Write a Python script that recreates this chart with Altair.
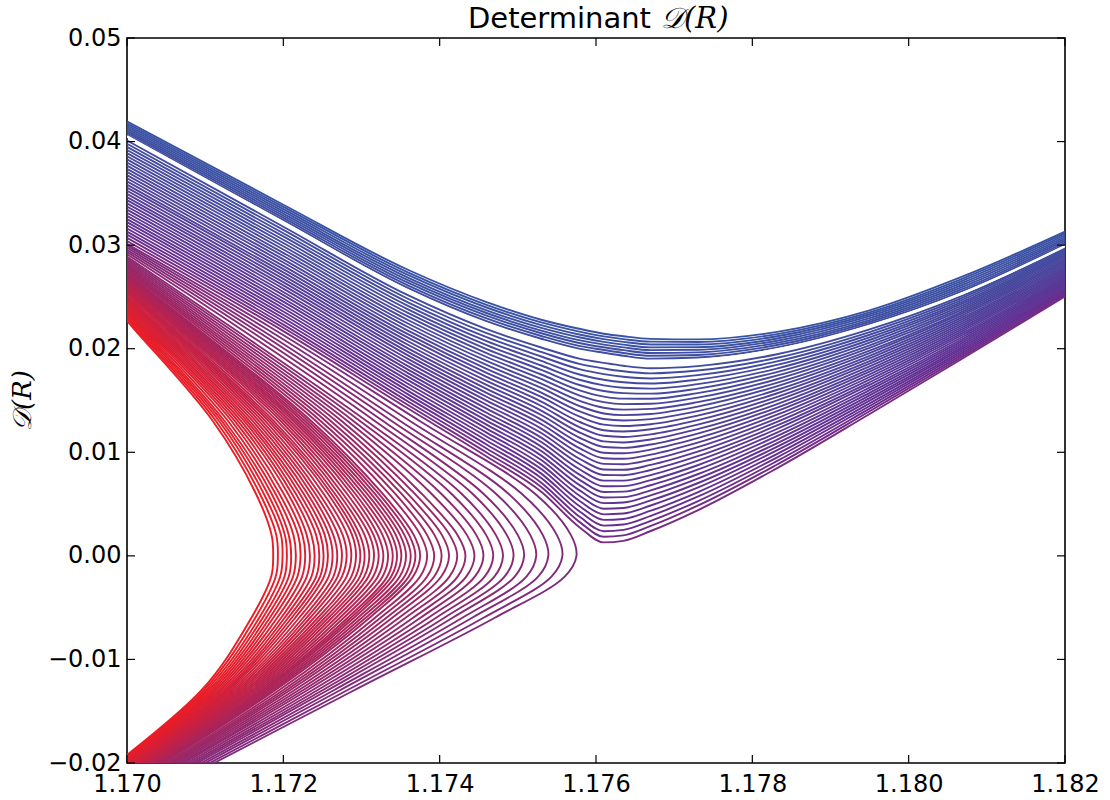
import altair as alt
import pandas as pd

# ---------------- data ----------------
# C-shaped curves (red -> purple): x position of each curve at shared y levels
C_LEVELS = [0.034, 0.022, 0.013, 0.006, 0.002, 0.0, -0.002, -0.006, -0.013, -0.023]
C_X = [
    [1.168640, 1.170080, 1.171100, 1.171650, 1.171850, 1.171870, 1.171845, 1.171590, 1.170950, 1.169350],
    [1.168645, 1.170105, 1.171140, 1.171700, 1.171910, 1.171930, 1.171903, 1.171640, 1.170980, 1.169365],
    [1.168650, 1.170130, 1.171180, 1.171750, 1.171970, 1.171990, 1.171960, 1.171690, 1.171010, 1.169380],
    [1.168660, 1.170155, 1.171215, 1.171800, 1.172020, 1.172045, 1.172015, 1.171735, 1.171040, 1.169395],
    [1.168670, 1.170180, 1.171250, 1.171850, 1.172070, 1.172100, 1.172070, 1.171780, 1.171070, 1.169410],
    [1.168675, 1.170205, 1.171295, 1.171900, 1.172130, 1.172160, 1.172125, 1.171825, 1.171100, 1.169425],
    [1.168680, 1.170230, 1.171340, 1.171950, 1.172190, 1.172220, 1.172180, 1.171870, 1.171130, 1.169440],
    [1.168690, 1.170255, 1.171380, 1.172005, 1.172245, 1.172280, 1.172240, 1.171920, 1.171160, 1.169455],
    [1.168700, 1.170280, 1.171420, 1.172060, 1.172300, 1.172340, 1.172300, 1.171970, 1.171190, 1.169470],
    [1.168705, 1.170305, 1.171460, 1.172110, 1.172360, 1.172400, 1.172360, 1.172015, 1.171220, 1.169485],
    [1.168710, 1.170330, 1.171500, 1.172160, 1.172420, 1.172460, 1.172420, 1.172060, 1.171250, 1.169500],
    [1.168715, 1.170355, 1.171535, 1.172210, 1.172475, 1.172515, 1.172470, 1.172105, 1.171275, 1.169515],
    [1.168720, 1.170380, 1.171570, 1.172260, 1.172530, 1.172570, 1.172520, 1.172150, 1.171300, 1.169530],
    [1.168730, 1.170405, 1.171610, 1.172310, 1.172585, 1.172630, 1.172580, 1.172200, 1.171330, 1.169545],
    [1.168740, 1.170430, 1.171650, 1.172360, 1.172640, 1.172690, 1.172640, 1.172250, 1.171360, 1.169560],
    [1.168745, 1.170460, 1.171690, 1.172410, 1.172700, 1.172750, 1.172695, 1.172295, 1.171390, 1.169575],
    [1.168750, 1.170490, 1.171730, 1.172460, 1.172760, 1.172810, 1.172750, 1.172340, 1.171420, 1.169590],
    [1.168760, 1.170515, 1.171770, 1.172515, 1.172820, 1.172870, 1.172810, 1.172390, 1.171450, 1.169605],
    [1.168770, 1.170540, 1.171810, 1.172570, 1.172880, 1.172930, 1.172870, 1.172440, 1.171480, 1.169620],
    [1.168775, 1.170560, 1.171845, 1.172615, 1.172930, 1.172985, 1.172925, 1.172485, 1.171510, 1.169635],
    [1.168780, 1.170580, 1.171880, 1.172660, 1.172980, 1.173040, 1.172980, 1.172530, 1.171540, 1.169650],
    [1.168785, 1.170610, 1.171925, 1.172710, 1.173040, 1.173100, 1.173035, 1.172575, 1.171570, 1.169665],
    [1.168790, 1.170640, 1.171970, 1.172760, 1.173100, 1.173160, 1.173090, 1.172620, 1.171600, 1.169680],
    [1.168800, 1.170665, 1.172010, 1.172815, 1.173155, 1.173220, 1.173150, 1.172670, 1.171630, 1.169695],
    [1.168810, 1.170690, 1.172050, 1.172870, 1.173210, 1.173280, 1.173210, 1.172720, 1.171660, 1.169710],
    [1.168815, 1.170715, 1.172090, 1.172920, 1.173270, 1.173340, 1.173270, 1.172770, 1.171690, 1.169725],
    [1.168820, 1.170740, 1.172130, 1.172970, 1.173330, 1.173400, 1.173330, 1.172820, 1.171720, 1.169740],
    [1.168825, 1.170765, 1.172165, 1.173020, 1.173385, 1.173455, 1.173380, 1.172860, 1.171745, 1.169755],
    [1.168830, 1.170790, 1.172200, 1.173070, 1.173440, 1.173510, 1.173430, 1.172900, 1.171770, 1.169770],
    [1.168840, 1.170815, 1.172240, 1.173120, 1.173495, 1.173570, 1.173490, 1.172950, 1.171800, 1.169785],
    [1.168850, 1.170840, 1.172280, 1.173170, 1.173550, 1.173630, 1.173550, 1.173000, 1.171830, 1.169800],
    [1.168855, 1.170865, 1.172320, 1.173220, 1.173610, 1.173690, 1.173605, 1.173050, 1.171860, 1.169815],
    [1.168860, 1.170890, 1.172360, 1.173270, 1.173670, 1.173750, 1.173660, 1.173100, 1.171890, 1.169830],
    [1.168870, 1.170930, 1.172420, 1.173350, 1.173755, 1.173840, 1.173750, 1.173170, 1.171940, 1.169855],
    [1.168880, 1.170970, 1.172480, 1.173430, 1.173840, 1.173930, 1.173840, 1.173240, 1.171990, 1.169880],
    [1.168895, 1.171010, 1.172545, 1.173510, 1.173935, 1.174025, 1.173930, 1.173315, 1.172035, 1.169905],
    [1.168910, 1.171050, 1.172610, 1.173590, 1.174030, 1.174120, 1.174020, 1.173390, 1.172080, 1.169930],
    [1.168920, 1.171095, 1.172680, 1.173680, 1.174130, 1.174225, 1.174125, 1.173475, 1.172135, 1.169955],
    [1.168930, 1.171140, 1.172750, 1.173770, 1.174230, 1.174330, 1.174230, 1.173560, 1.172190, 1.169980],
    [1.168945, 1.171190, 1.172825, 1.173895, 1.174350, 1.174445, 1.174340, 1.173655, 1.172245, 1.170010],
    [1.168960, 1.171240, 1.172900, 1.174020, 1.174470, 1.174560, 1.174450, 1.173750, 1.172300, 1.170040],
    [1.168975, 1.171295, 1.172985, 1.174150, 1.174595, 1.174685, 1.174575, 1.173850, 1.172365, 1.170075],
    [1.168990, 1.171350, 1.173070, 1.174280, 1.174720, 1.174810, 1.174700, 1.173950, 1.172430, 1.170110],
    [1.169005, 1.171435, 1.173175, 1.174420, 1.174860, 1.174945, 1.174830, 1.174055, 1.172495, 1.170145],
    [1.169020, 1.171520, 1.173280, 1.174560, 1.175000, 1.175080, 1.174960, 1.174160, 1.172560, 1.170180],
    [1.169040, 1.171600, 1.173390, 1.174720, 1.175160, 1.175235, 1.175110, 1.174285, 1.172640, 1.170220],
    [1.169060, 1.171680, 1.173500, 1.174880, 1.175320, 1.175390, 1.175260, 1.174410, 1.172720, 1.170260],
    [1.169080, 1.171765, 1.173625, 1.175050, 1.175500, 1.175570, 1.175430, 1.174555, 1.172810, 1.170305],
    [1.169100, 1.171850, 1.173750, 1.175220, 1.175680, 1.175750, 1.175600, 1.174700, 1.172900, 1.170350],
]

# U-shaped curves (purple -> blue): y value of each curve at shared x levels
U_LEVELS = [1.170, 1.172, 1.1736, 1.1746, 1.1753, 1.1758, 1.1761, 1.17635, 1.1767,
            1.1773, 1.1783, 1.1795, 1.1807, 1.182]
U_Y = [
    [0.03040, 0.02170, 0.01420, 0.00960, 0.00620, 0.00270, 0.00130, 0.00145, 0.00240, 0.00440, 0.00840, 0.01370, 0.01910, 0.02505],
    [0.03070, 0.02202, 0.01454, 0.00998, 0.00664, 0.00321, 0.00184, 0.00198, 0.00289, 0.00484, 0.00875, 0.01396, 0.01929, 0.02520],
    [0.03101, 0.02233, 0.01488, 0.01037, 0.00707, 0.00372, 0.00238, 0.00251, 0.00338, 0.00527, 0.00909, 0.01421, 0.01948, 0.02534],
    [0.03131, 0.02265, 0.01523, 0.01075, 0.00751, 0.00423, 0.00292, 0.00303, 0.00387, 0.00571, 0.00944, 0.01447, 0.01967, 0.02549],
    [0.03161, 0.02296, 0.01557, 0.01114, 0.00794, 0.00474, 0.00347, 0.00356, 0.00436, 0.00614, 0.00978, 0.01472, 0.01986, 0.02563],
    [0.03192, 0.02328, 0.01591, 0.01152, 0.00838, 0.00525, 0.00401, 0.00409, 0.00486, 0.00658, 0.01013, 0.01498, 0.02005, 0.02578],
    [0.03222, 0.02359, 0.01625, 0.01190, 0.00881, 0.00576, 0.00455, 0.00462, 0.00535, 0.00701, 0.01047, 0.01523, 0.02023, 0.02592],
    [0.03252, 0.02391, 0.01659, 0.01229, 0.00925, 0.00627, 0.00509, 0.00515, 0.00584, 0.00745, 0.01082, 0.01549, 0.02042, 0.02607],
    [0.03282, 0.02422, 0.01694, 0.01267, 0.00968, 0.00678, 0.00563, 0.00567, 0.00633, 0.00788, 0.01116, 0.01574, 0.02061, 0.02621],
    [0.03313, 0.02454, 0.01728, 0.01306, 0.01012, 0.00729, 0.00617, 0.00620, 0.00682, 0.00832, 0.01151, 0.01600, 0.02080, 0.02636],
    [0.03343, 0.02485, 0.01762, 0.01344, 0.01055, 0.00780, 0.00672, 0.00673, 0.00731, 0.00875, 0.01185, 0.01625, 0.02099, 0.02651],
    [0.03373, 0.02517, 0.01796, 0.01382, 0.01099, 0.00831, 0.00726, 0.00726, 0.00780, 0.00919, 0.01220, 0.01651, 0.02118, 0.02665],
    [0.03404, 0.02548, 0.01830, 0.01421, 0.01142, 0.00882, 0.00780, 0.00779, 0.00829, 0.00962, 0.01254, 0.01676, 0.02137, 0.02680],
    [0.03434, 0.02580, 0.01865, 0.01459, 0.01186, 0.00933, 0.00834, 0.00831, 0.00878, 0.01006, 0.01289, 0.01702, 0.02156, 0.02694],
    [0.03464, 0.02611, 0.01899, 0.01498, 0.01229, 0.00984, 0.00888, 0.00884, 0.00928, 0.01049, 0.01323, 0.01727, 0.02175, 0.02709],
    [0.03495, 0.02643, 0.01933, 0.01536, 0.01273, 0.01035, 0.00942, 0.00937, 0.00977, 0.01093, 0.01358, 0.01753, 0.02194, 0.02723],
    [0.03525, 0.02674, 0.01967, 0.01574, 0.01316, 0.01086, 0.00996, 0.00990, 0.01026, 0.01136, 0.01392, 0.01778, 0.02212, 0.02738],
    [0.03555, 0.02706, 0.02001, 0.01613, 0.01360, 0.01137, 0.01051, 0.01043, 0.01075, 0.01180, 0.01427, 0.01804, 0.02231, 0.02752],
    [0.03585, 0.02737, 0.02036, 0.01651, 0.01403, 0.01188, 0.01105, 0.01095, 0.01124, 0.01223, 0.01461, 0.01829, 0.02250, 0.02767],
    [0.03616, 0.02769, 0.02070, 0.01690, 0.01447, 0.01239, 0.01159, 0.01148, 0.01173, 0.01267, 0.01496, 0.01855, 0.02269, 0.02781],
    [0.03646, 0.02800, 0.02104, 0.01728, 0.01490, 0.01290, 0.01213, 0.01201, 0.01222, 0.01310, 0.01530, 0.01880, 0.02288, 0.02796],
    [0.03676, 0.02832, 0.02138, 0.01766, 0.01534, 0.01341, 0.01267, 0.01254, 0.01271, 0.01354, 0.01565, 0.01906, 0.02307, 0.02811],
    [0.03707, 0.02863, 0.02172, 0.01805, 0.01577, 0.01392, 0.01321, 0.01307, 0.01320, 0.01397, 0.01599, 0.01931, 0.02326, 0.02825],
    [0.03737, 0.02895, 0.02207, 0.01843, 0.01621, 0.01443, 0.01375, 0.01359, 0.01370, 0.01441, 0.01634, 0.01957, 0.02345, 0.02840],
    [0.03767, 0.02926, 0.02241, 0.01882, 0.01664, 0.01494, 0.01430, 0.01412, 0.01419, 0.01484, 0.01668, 0.01982, 0.02364, 0.02854],
    [0.03798, 0.02958, 0.02275, 0.01920, 0.01708, 0.01545, 0.01484, 0.01465, 0.01468, 0.01528, 0.01703, 0.02008, 0.02383, 0.02869],
    [0.03828, 0.02989, 0.02309, 0.01958, 0.01751, 0.01596, 0.01538, 0.01518, 0.01517, 0.01571, 0.01737, 0.02033, 0.02401, 0.02883],
    [0.03858, 0.03021, 0.02343, 0.01997, 0.01795, 0.01647, 0.01592, 0.01571, 0.01566, 0.01615, 0.01772, 0.02059, 0.02420, 0.02898],
    [0.03888, 0.03052, 0.02378, 0.02035, 0.01838, 0.01698, 0.01646, 0.01623, 0.01615, 0.01658, 0.01806, 0.02084, 0.02439, 0.02912],
    [0.03919, 0.03084, 0.02412, 0.02074, 0.01882, 0.01749, 0.01700, 0.01676, 0.01664, 0.01702, 0.01841, 0.02110, 0.02458, 0.02927],
    [0.03949, 0.03115, 0.02446, 0.02112, 0.01925, 0.01800, 0.01755, 0.01729, 0.01713, 0.01745, 0.01875, 0.02135, 0.02477, 0.02942],
    [0.03979, 0.03147, 0.02480, 0.02150, 0.01969, 0.01851, 0.01809, 0.01782, 0.01762, 0.01789, 0.01910, 0.02161, 0.02496, 0.02956],
    [0.04010, 0.03178, 0.02514, 0.02189, 0.02012, 0.01902, 0.01863, 0.01835, 0.01812, 0.01832, 0.01944, 0.02186, 0.02515, 0.02971],
    # above the white curve
    [0.04068, 0.03241, 0.02585, 0.02266, 0.02096, 0.01998, 0.01961, 0.01932, 0.01904, 0.01915, 0.02011, 0.02239, 0.02560, 0.03008],
    [0.04086, 0.03263, 0.02610, 0.02293, 0.02123, 0.02025, 0.01988, 0.01959, 0.01932, 0.01940, 0.02033, 0.02258, 0.02580, 0.03025],
    [0.04104, 0.03284, 0.02635, 0.02319, 0.02149, 0.02053, 0.02014, 0.01986, 0.01959, 0.01965, 0.02054, 0.02276, 0.02600, 0.03043],
    [0.04123, 0.03305, 0.02660, 0.02345, 0.02175, 0.02080, 0.02040, 0.02013, 0.01986, 0.01990, 0.02075, 0.02295, 0.02620, 0.03060],
    [0.04141, 0.03326, 0.02685, 0.02371, 0.02201, 0.02108, 0.02066, 0.02039, 0.02013, 0.02015, 0.02096, 0.02314, 0.02640, 0.03078],
    [0.04159, 0.03348, 0.02710, 0.02398, 0.02228, 0.02135, 0.02093, 0.02066, 0.02041, 0.02040, 0.02118, 0.02333, 0.02660, 0.03095],
    [0.04177, 0.03369, 0.02735, 0.02424, 0.02254, 0.02163, 0.02119, 0.02093, 0.02068, 0.02065, 0.02139, 0.02351, 0.02680, 0.03113],
    [0.04195, 0.03390, 0.02760, 0.02450, 0.02280, 0.02190, 0.02145, 0.02120, 0.02095, 0.02090, 0.02160, 0.02370, 0.02700, 0.03130],
]
WHITE_Y = [0.04050, 0.03220, 0.02560, 0.02240, 0.02070, 0.01970, 0.01935, 0.01905, 0.01877,
           0.01890, 0.01990, 0.02220, 0.02540, 0.02990]

X_TICKS = [1.170, 1.172, 1.174, 1.176, 1.178, 1.180, 1.182]
Y_TICKS = [-0.02, -0.01, 0.00, 0.01, 0.02, 0.03, 0.04, 0.05]

TITLE_WORD = "Determinant"
TITLE_MATH = "𝒟(R)"
YLABEL = "𝒟(R)"

# ---------------- tables ----------------
rows = []
n_c = len(C_X)
for i, xs in enumerate(C_X):
    for k, (x, y) in enumerate(zip(xs, C_LEVELS)):
        rows.append({"cid": f"a{i:03d}", "k": k, "x": x, "y": y, "t": 0.45 * i / (n_c - 1)})
df_c = pd.DataFrame(rows)

rows = []
n_u = len(U_Y)
for j, ys in enumerate(U_Y):
    p = j / (n_u - 1)
    for k, (x, y) in enumerate(zip(U_LEVELS, ys)):
        rows.append({"cid": f"b{j:03d}", "k": k, "x": x, "y": y, "t": 0.47 + 0.53 * p ** 0.75})
df_u = pd.DataFrame(rows)

df_w = pd.DataFrame({"x": U_LEVELS, "y": WHITE_Y})
df_xt = pd.DataFrame({"x": X_TICKS})
df_yt = pd.DataFrame({"y": Y_TICKS})
df_one = pd.DataFrame({"a": [0]})

W, H = 938, 725
TL = 8
LW = 1.9
xsc = alt.Scale(domain=[1.170, 1.182], nice=False, zero=False)
ysc = alt.Scale(domain=[-0.02, 0.05], nice=False, zero=False)
csc = alt.Scale(domain=[0, 0.55, 1], range=["#ed1c24", "#662d91", "#3953a4"], interpolate="rgb")

x_enc = alt.X("x:Q", scale=xsc, title=None,
              axis=alt.Axis(values=X_TICKS, format=".3f", labelPadding=9, labelFlush=False,
                            labelOverlap=False))
y_enc = alt.Y("y:Q", scale=ysc, title=None,
              axis=alt.Axis(values=Y_TICKS, labelPadding=6, labelFlush=False, labelOverlap=False,
                            labelExpr="replace(format(datum.value, '.2f'), '-', '\u2212')"))

c_lines = alt.Chart(df_c).mark_line(clip=True, interpolate="catmull-rom", strokeWidth=LW).encode(
    x=x_enc, y=y_enc,
    color=alt.Color("t:Q", scale=csc, legend=None),
    detail="cid:N",
    order=alt.Order("k:Q"),
)
u_lines = alt.Chart(df_u).mark_line(clip=True, interpolate="monotone", strokeWidth=LW).encode(
    x=alt.X("x:Q", scale=xsc), y=alt.Y("y:Q", scale=ysc),
    color=alt.Color("t:Q", scale=csc, legend=None),
    detail="cid:N",
)
white = alt.Chart(df_w).mark_line(clip=True, interpolate="monotone", strokeWidth=2.4, color="white").encode(
    x=alt.X("x:Q", scale=xsc), y=alt.Y("y:Q", scale=ysc),
)

xt_bot = alt.Chart(df_xt).mark_rule(color="black", strokeWidth=1.2).encode(
    x=alt.X("x:Q", scale=xsc), y=alt.value(H), y2=alt.value(H - TL))
xt_top = alt.Chart(df_xt).mark_rule(color="black", strokeWidth=1.2).encode(
    x=alt.X("x:Q", scale=xsc), y=alt.value(0), y2=alt.value(TL))
yt_left = alt.Chart(df_yt).mark_rule(color="black", strokeWidth=1.2).encode(
    y=alt.Y("y:Q", scale=ysc), x=alt.value(0), x2=alt.value(TL))
yt_right = alt.Chart(df_yt).mark_rule(color="black", strokeWidth=1.2).encode(
    y=alt.Y("y:Q", scale=ysc), x=alt.value(W), x2=alt.value(W - TL))

title_a = alt.Chart(df_one).mark_text(
    text=TITLE_WORD, font="DejaVu Sans", fontSize=29, align="right", baseline="alphabetic", color="black"
).encode(x=alt.value(524), y=alt.value(-10))
title_b = alt.Chart(df_one).mark_text(
    text=TITLE_MATH, font="DejaVu Serif", fontStyle="italic", fontSize=29, align="left",
    baseline="alphabetic", color="black"
).encode(x=alt.value(534), y=alt.value(-10))

ylabel = alt.Chart(df_one).mark_text(
    text=YLABEL, font="DejaVu Serif", fontStyle="italic", fontSize=26, align="center",
    baseline="middle", angle=270, color="black"
).encode(x=alt.value(-104), y=alt.value(H / 2))

chart = alt.layer(c_lines, u_lines, white, xt_bot, xt_top, yt_left, yt_right,
                  title_a, title_b, ylabel).properties(
    width=W, height=H,
    autosize=alt.AutoSizeParams(type="none"),
    padding={"left": 127, "top": 38, "right": 45, "bottom": 37},
).configure_view(
    stroke="black", strokeWidth=1.6
).configure_axis(
    grid=False, domain=False, ticks=False,
    labelFont="DejaVu Sans", labelFontSize=24, labelColor="black",
)

chart.save("out.html", embed_options={"renderer": "svg", "actions": False})
